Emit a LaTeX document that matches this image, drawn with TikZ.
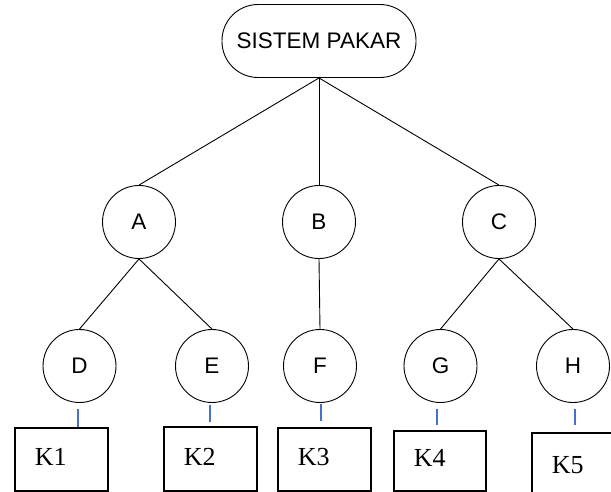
\documentclass[tikz,border=0pt]{standalone}
\usepackage{fontspec}
\setmainfont{Liberation Serif}
\newfontfamily\arialfont{Liberation Sans}
\begin{document}
\begin{tikzpicture}[x=1pt,y=-1pt,
  cnode/.style={draw,circle,line width=0.9pt,minimum size=73pt,inner sep=0pt,font=\arialfont\fontsize{22.5}{26}\selectfont},
  topnode/.style={draw,rounded corners=36pt,line width=0.9pt,minimum width=194pt,minimum height=73pt,inner sep=0pt,font=\arialfont\fontsize{22.5}{26}\selectfont},
  kbox/.style={draw,line width=1.8pt,anchor=north west,inner xsep=20pt,inner ysep=0pt,align=left,text depth=5pt,font=\fontsize{26}{30}\selectfont},
  edge/.style={line width=0.9pt},
  blue/.style={line width=1.8pt,draw={rgb,255:red,68;green,114;blue,196}}]
\useasboundingbox (0,0) rectangle (611,491);
\node[topnode] (sp) at (319,41) {SISTEM PAKAR};
\node[cnode] (A) at (139,222) {A};
\node[cnode] (B) at (319,222) {B};
\node[cnode] (C) at (499,222) {C};
\node[cnode] (D) at (79.5,366) {D};
\node[cnode] (E) at (212,366) {E};
\node[cnode] (F) at (320,366) {F};
\node[cnode] (G) at (440.5,366) {G};
\node[cnode] (H) at (573,366) {H};
\node[kbox,text width=53pt,minimum height=63pt] (K1) at (14,427) {K1};
\node[kbox,text width=53pt,minimum height=64pt] (K2) at (163,426) {K2};
\node[kbox,text width=53pt,minimum height=63pt] (K3) at (277,427) {K3};
\node[kbox,text width=52pt,minimum height=60pt] (K4) at (393,430) {K4};
\node[kbox,text width=80pt,minimum height=70pt] (K5) at (531,432) {K5};
\draw[edge] (sp.south) -- (A.north);
\draw[edge] (sp.south) -- (B.north);
\draw[edge] (sp.south) -- (C.north);
\draw[edge] (A.south) -- (D.north);
\draw[edge] (A.south) -- (E.north);
\draw[edge] (B.south) -- (F.north);
\draw[edge] (C.south) -- (G.north);
\draw[edge] (C.south) -- (H.north);
\draw[blue,shorten <=6pt] ([xshift=-1.5pt]D.south) -- ([xshift=-1.5pt]D.south |- K1.north);
\draw[blue,shorten <=2pt,shorten >=4pt] ([xshift=-2pt]E.south) -- ([xshift=-2pt]E.south |- K2.north);
\draw[blue,shorten <=1pt,shorten >=6pt] ([xshift=1pt]F.south) -- ([xshift=1pt]F.south |- K3.north);
\draw[blue,shorten <=6pt,shorten >=5pt] ([xshift=-3.5pt]G.south) -- ([xshift=-3.5pt]G.south |- K4.north);
\draw[blue,shorten <=6pt,shorten >=7pt] ([xshift=2pt]H.south) -- ([xshift=2pt]H.south |- K5.north);
\end{tikzpicture}
\end{document}
